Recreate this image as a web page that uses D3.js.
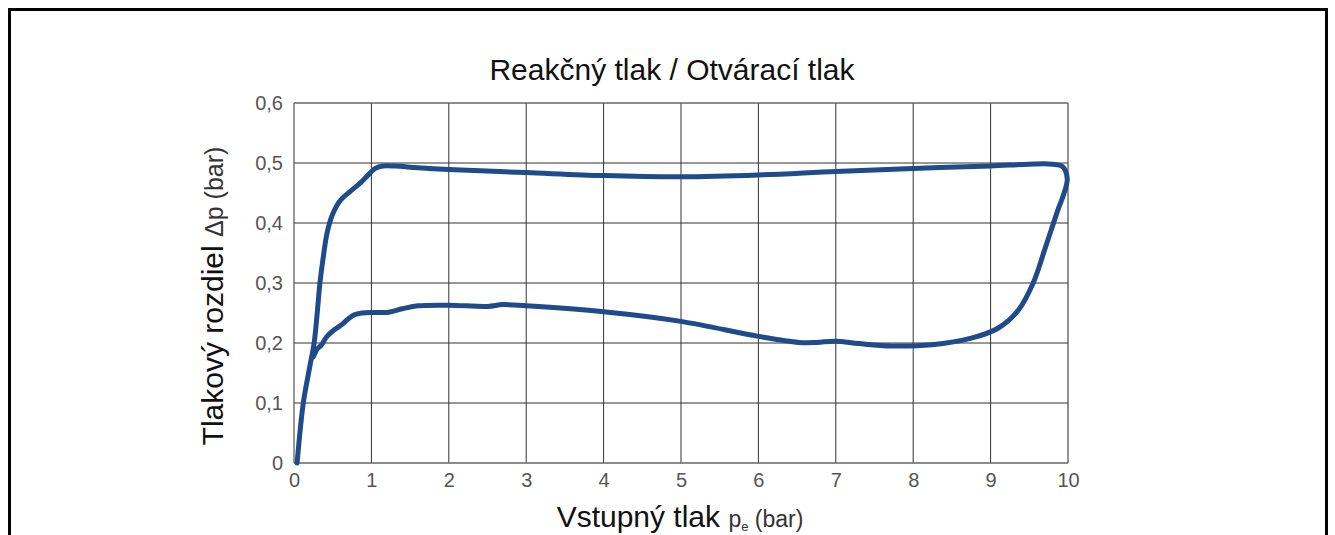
<!DOCTYPE html>
<html>
<head>
<meta charset="utf-8">
<script src="https://cdn.jsdelivr.net/npm/d3@7"></script>
<style>
  html, body { margin: 0; padding: 0; background: #fff; }
  svg { display: block; }
</style>
</head>
<body>
<svg id="chart" width="1335" height="535"></svg>
<script>
// Data: closed hysteresis loop, in order along the curve
const loopX = [0.04, 0.12, 0.2, 0.26, 0.3, 0.335, 0.38, 0.43, 0.5, 0.6, 0.72, 0.85, 0.95, 1.05, 1.15, 1.3, 1.6, 2.0, 3.0, 4.0, 5.0, 6.0, 7.0, 8.0, 9.0, 9.5, 9.8, 9.93, 9.99, 9.95, 9.87, 9.70, 9.55, 9.36, 9.10, 8.75, 8.24, 7.72, 7.3, 7.0, 6.75, 6.52, 6.0, 5.0, 4.0, 3.0, 2.7, 2.5, 2.0, 1.6, 1.4, 1.2, 1.0, 0.88, 0.78, 0.7, 0.6, 0.5, 0.42, 0.35, 0.3, 0.25];
const loopY = [0.0, 0.1, 0.158, 0.2, 0.25, 0.3, 0.345, 0.385, 0.415, 0.438, 0.452, 0.466, 0.479, 0.491, 0.495, 0.495, 0.492, 0.489, 0.484, 0.479, 0.477, 0.480, 0.486, 0.491, 0.495, 0.498, 0.498, 0.494, 0.474, 0.45, 0.422, 0.356, 0.300, 0.255, 0.225, 0.208, 0.197, 0.195, 0.199, 0.203, 0.201, 0.201, 0.211, 0.236, 0.252, 0.262, 0.264, 0.261, 0.263, 0.262, 0.257, 0.251, 0.251, 0.25, 0.247, 0.24, 0.229, 0.22, 0.21, 0.196, 0.19, 0.177];

const xTicks = [0, 1, 2, 3, 4, 5, 6, 7, 8, 9, 10];
const yTicks = [0, 0.1, 0.2, 0.3, 0.4, 0.5, 0.6];
const yTickLabels = ["0", "0,1", "0,2", "0,3", "0,4", "0,5", "0,6"];

const titleText = "Reakčný tlak / Otvárací tlak";
const xLabelMain = "Vstupný tlak ";
const xLabelSym = "p";
const xLabelSub = "e";
const xLabelUnit = " (bar)";
const yLabelMain = "Tlakový rozdiel ";
const yLabelUnit = "Δp (bar)";

const svg = d3.select("#chart");
const font = "'Liberation Sans', Arial, Helvetica, sans-serif";

// Outer frame
svg.append("path")
  .attr("d", "M9.5,545 L9.5,9.5 L1326.5,9.5 L1326.5,545")
  .attr("fill", "none").attr("stroke", "#000").attr("stroke-width", 3);

const x = d3.scaleLinear().domain([0, 10]).range([294, 1068]);
const y = d3.scaleLinear().domain([0, 0.6]).range([463, 103]);

// Grid
const grid = svg.append("g");
grid.selectAll("line.v").data(xTicks).enter().append("line")
  .attr("x1", d => x(d)).attr("x2", d => x(d))
  .attr("y1", y(0.6)).attr("y2", y(0))
  .attr("stroke", d => d === 10 ? "#777" : "#333")
  .attr("stroke-width", d => d === 10 ? 1.6 : 1);
grid.selectAll("line.h").data(yTicks).enter().append("line")
  .attr("x1", x(0)).attr("x2", x(10))
  .attr("y1", d => y(d)).attr("y2", d => y(d))
  .attr("stroke", d => (d === 0 || d === 0.6) ? "#666" : "#333")
  .attr("stroke-width", d => (d === 0 || d === 0.6) ? 1.4 : 1);

// Axes (labels only)
const xAxis = d3.axisBottom(x).tickValues(xTicks).tickSize(0).tickPadding(10).tickFormat(d3.format("d"));
const gx = svg.append("g").attr("transform", `translate(0,${y(0)})`).call(xAxis);
gx.select(".domain").remove();
gx.selectAll("text").attr("font-family", font).attr("font-size", 20).attr("fill", "#555");

const yAxis = d3.axisLeft(y).tickValues(yTicks).tickSize(0).tickPadding(11)
  .tickFormat((d, i) => yTickLabels[i]);
const gy = svg.append("g").attr("transform", `translate(${x(0)},0)`).call(yAxis);
gy.select(".domain").remove();
gy.selectAll("text").attr("font-family", font).attr("font-size", 20).attr("fill", "#555");

// Curve
const pts = loopX.map((v, i) => [v, loopY[i]]);
const line = d3.line().x(d => x(d[0])).y(d => y(d[1])).curve(d3.curveCatmullRom.alpha(0.5));
svg.append("path").datum(pts)
  .attr("d", line)
  .attr("fill", "none")
  .attr("stroke", "#1f4b8a")
  .attr("stroke-width", 5)
  .attr("stroke-linejoin", "round")
  .attr("stroke-linecap", "round");

// Title
svg.append("text").attr("x", 672).attr("y", 80)
  .attr("text-anchor", "middle").attr("font-family", font)
  .attr("font-size", 30).attr("fill", "#111").text(titleText);

// X label
const xl = svg.append("text").attr("x", 680).attr("y", 527)
  .attr("text-anchor", "middle").attr("font-family", font).attr("fill", "#111");
xl.append("tspan").attr("font-size", 30).text(xLabelMain);
xl.append("tspan").attr("font-size", 23).attr("fill", "#333").text(xLabelSym);
xl.append("tspan").attr("font-size", 13).attr("fill", "#333").attr("dy", 4).text(xLabelSub);
xl.append("tspan").attr("font-size", 23).attr("fill", "#333").attr("dy", -4).text(xLabelUnit);

// Y label
const yl = svg.append("text")
  .attr("transform", "translate(223,296) rotate(-90)")
  .attr("text-anchor", "middle").attr("font-family", font).attr("fill", "#111");
yl.append("tspan").attr("font-size", 30).text(yLabelMain);
yl.append("tspan").attr("font-size", 25).attr("fill", "#333").text(yLabelUnit);
</script>
</body>
</html>
